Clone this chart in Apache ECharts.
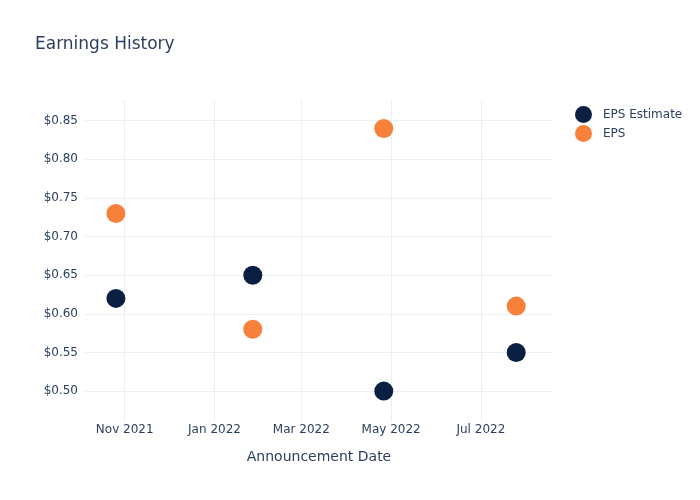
<!DOCTYPE html>
<html>
<head>
<meta charset="utf-8">
<script src="https://cdn.jsdelivr.net/npm/echarts@6/dist/echarts.min.js"></script>
<style>html,body{margin:0;padding:0;background:#fff}#c{width:700px;height:500px}</style>
</head>
<body>
<div id="c"></div>
<script>
const dates = ['2021-10-26', '2022-01-27', '2022-04-26', '2022-07-25'];
const epsEstimate = [0.62, 0.65, 0.50, 0.55];
const eps = [0.73, 0.58, 0.84, 0.61];
const xTickDates = ['2021-11-01', '2022-01-01', '2022-03-01', '2022-05-01', '2022-07-01'];
const xTickLabels = ['Nov 2021', 'Jan 2022', 'Mar 2022', 'May 2022', 'Jul 2022'];
const yTicks = [0.50, 0.55, 0.60, 0.65, 0.70, 0.75, 0.80, 0.85];
const xRange = ['2021-10-05', '2022-08-19'];
const yRange = [0.46, 0.8768];

const t = s => echarts.time.parse(s).getTime();
const xTickVals = xTickDates.map(t);
const font = 'DejaVu Sans, Verdana, sans-serif';
const txt = '#2a3f5f';
const grid = '#EBF0F8';

const chart = echarts.init(document.getElementById('c'), null, {renderer: 'canvas'});
chart.setOption({
  animation: false,
  backgroundColor: '#fff',
  title: {
    text: 'Earnings History', left: 35, top: 36, padding: 0,
    textStyle: {fontFamily: font, fontSize: 17, fontWeight: 'normal', color: txt}
  },
  legend: {
    orient: 'vertical', left: 575, top: 106, itemGap: 2, padding: 0,
    itemWidth: 17, itemHeight: 17, icon: 'circle',
    textStyle: {fontFamily: font, fontSize: 12, color: txt, padding: [0, 0, 0, 6]},
    data: ['EPS Estimate', 'EPS']
  },
  grid: {left: 85, right: 147, top: 100, bottom: 78, containLabel: false, outerBoundsMode: 'none'},
  xAxis: {
    type: 'value', min: t(xRange[0]), max: t(xRange[1]), scale: true,
    name: 'Announcement Date', nameLocation: 'middle', nameGap: 28,
    nameTextStyle: {fontFamily: font, fontSize: 14, color: txt},
    axisLine: {show: false},
    axisTick: {show: false, customValues: xTickVals},
    axisLabel: {
      customValues: xTickVals, fontFamily: font, fontSize: 12, color: txt, margin: 2,
      formatter: v => { const i = xTickVals.indexOf(v); return i >= 0 ? xTickLabels[i] : ''; }
    },
    splitLine: {show: true, lineStyle: {color: grid, width: 1}}
  },
  yAxis: {
    type: 'value', min: yRange[0], max: yRange[1],
    axisLine: {show: false},
    axisTick: {show: false, customValues: yTicks},
    axisLabel: {
      customValues: yTicks, fontFamily: font, fontSize: 12, color: txt, margin: 7,
      formatter: v => '$' + v.toFixed(2)
    },
    splitLine: {show: true, lineStyle: {color: grid, width: 1}}
  },
  series: [
    {
      name: 'EPS Estimate', type: 'scatter', symbolSize: 19,
      itemStyle: {color: '#0b1f42', opacity: 1},
      data: dates.map((d, i) => [t(d), epsEstimate[i]])
    },
    {
      name: 'EPS', type: 'scatter', symbolSize: 19,
      itemStyle: {color: '#f7813a', opacity: 1},
      data: dates.map((d, i) => [t(d), eps[i]])
    }
  ]
});
</script>
</body>
</html>
